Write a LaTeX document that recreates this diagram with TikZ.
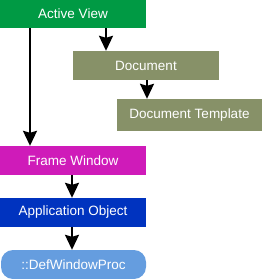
\documentclass[tikz,border=0pt]{standalone}
\usepackage{fontspec}
\setmainfont{Liberation Sans}
\usetikzlibrary{arrows.meta}
\definecolor{cgreen}{HTML}{009A44}
\definecolor{colive}{HTML}{879168}
\definecolor{cmag}{HTML}{CF1BB9}
\definecolor{cblue}{HTML}{0033BF}
\definecolor{clight}{HTML}{659DDF}
\begin{document}
\begin{tikzpicture}[x=1pt,y=-1pt,
  box/.style={fill=#1, draw=none, text=white, inner sep=0pt, minimum width=146pt, minimum height=29pt,
    font=\fontsize{13.5pt}{15pt}\selectfont},
  link/.style={line width=2pt, -{Stealth[inset=2pt,length=15pt,width=14pt]}}]
\useasboundingbox (0,0) rectangle (262,279);
\node[box=cgreen, minimum height=28pt] (av) at (73,14) {Active View};
\node[box=colive] (doc) at (146,65.5) {Document};
\node[box=colive, minimum width=145pt, minimum height=32pt] (dt) at (189.5,115) {Document Template};
\node[box=cmag] (fw) at (73,160.5) {Frame Window};
\node[box=cblue] (ao) at (73,212.5) {Application Object};
\node[box=clight, minimum width=145pt, rounded corners=12pt] (dw) at (73.5,264.5) {::DefWindowProc};
\coordinate (a1) at (30,28);
\coordinate (a1e) at (30,146);
\draw[link] (av.south -| a1) -- (fw.north -| a1);
\coordinate (a2) at (106,0);
\draw[link] (av.south -| a2) -- (doc.north -| a2);
\coordinate (a3) at (147,0);
\draw[link] (doc.south -| a3) -- (dt.north -| a3);
\coordinate (a4) at (72,0);
\draw[link] (fw.south -| a4) -- (ao.north -| a4);
\draw[link] (ao.south -| a4) -- (dw.north -| a4);
\end{tikzpicture}
\end{document}
